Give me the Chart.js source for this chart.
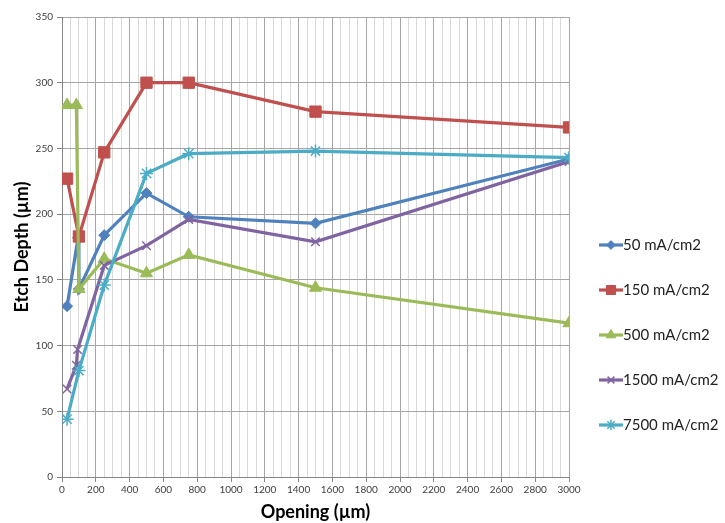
<!DOCTYPE html>
<html>
<head>
<meta charset="utf-8">
<script src="https://cdn.jsdelivr.net/npm/chart.js@4.4.0/dist/chart.umd.min.js"></script>
<style>
  html, body { margin: 0; padding: 0; background: #fff; }
</style>
</head>
<body>
<canvas id="chart" width="725" height="523"></canvas>
<script>
// opening (µm) and etch depth (µm) per current density
const seriesNames = ['50 mA/cm2', '150 mA/cm2', '500 mA/cm2', '1500 mA/cm2', '7500 mA/cm2'];

const open50 = [30, 95, 100, 250, 500, 750, 1500, 3000];
const depth50 = [130, 182, 143, 184, 216, 198, 193, 242];

const open150 = [30, 100, 250, 500, 750, 1500, 3000];
const depth150 = [227, 183, 247, 300, 300, 278, 266];

const open500 = [30, 85, 100, 250, 500, 750, 1500, 3000];
const depth500 = [283, 283, 143, 166, 155, 169, 144, 117];

const open1500 = [30, 85, 92, 250, 500, 750, 1500, 3000];
const depth1500 = [67, 85, 97, 161, 176, 196, 179, 240];

const open7500 = [30, 100, 250, 500, 750, 1500, 3000];
const depth7500 = [44, 81, 146, 231, 246, 248, 243];

const xTicksMax = 3000;
const yTicksMax = 350;

const colors = ['#4f81bd', '#c0504d', '#9bbb59', '#8064a2', '#4bacc6'];
const markers = ['rectRot', 'rect', 'triangle', 'crossRot', 'star'];
const markerSize = [5.5, 8, 7, 6, 6.5];

const FONT = 'Lato, "Liberation Sans", sans-serif';

function pairs(xs, ys) {
  return xs.map((x, i) => ({ x: x, y: ys[i] }));
}

const allData = [
  pairs(open50, depth50),
  pairs(open150, depth150),
  pairs(open500, depth500),
  pairs(open1500, depth1500),
  pairs(open7500, depth7500),
];

const thin = (m) => m === 'crossRot' || m === 'star';

const datasets = allData.map((d, i) => ({
  label: seriesNames[i],
  data: d,
  borderColor: colors[i],
  backgroundColor: colors[i],
  borderWidth: 3.2,
  pointStyle: markers[i],
  pointRadius: markerSize[i],
  pointBorderWidth: thin(markers[i]) ? 1.5 : 1,
  pointBorderColor: colors[i],
  pointBackgroundColor: colors[i],
  tension: 0,
  order: 5 - i, // later series on top, like the original
}));

// legend drawn by hand: line + marker, one entry per row
const sideLegend = {
  id: 'sideLegend',
  afterDraw(chart) {
    const ctx = chart.ctx;
    const rows = [245, 290, 335, 380, 425];
    ctx.save();
    seriesNames.forEach((name, i) => {
      const y = rows[i];
      ctx.strokeStyle = colors[i];
      ctx.lineWidth = 3.2;
      ctx.beginPath();
      ctx.moveTo(599, y);
      ctx.lineTo(623, y);
      ctx.stroke();
      ctx.fillStyle = colors[i];
      ctx.lineWidth = thin(markers[i]) ? 1.5 : 1;
      Chart.helpers.drawPoint(ctx, { pointStyle: markers[i], radius: markerSize[i] * 0.8, rotation: 0, borderWidth: 1 }, 611, y);
      ctx.fillStyle = '#222';
      ctx.font = '15px ' + FONT;
      ctx.textBaseline = 'middle';
      ctx.textAlign = 'left';
      ctx.fillText(name, 623, y);
    });
    ctx.restore();
  }
};

new Chart(document.getElementById('chart'), {
  type: 'line',
  data: { datasets: datasets },
  options: {
    responsive: false,
    animation: false,
    layout: { padding: { left: 0, top: 17, right: 156, bottom: 0 } },
    scales: {
      x: {
        type: 'linear',
        min: 0,
        max: xTicksMax,
        afterFit: (s) => { s.height = 46; },
        ticks: {
          stepSize: 50,
          autoSkip: false,
          maxRotation: 0,
          padding: 2,
          color: '#404040',
          font: { family: FONT, size: 10 },
          callback: (v) => (v % 200 === 0 ? v : ''),
        },
        grid: {
          color: (c) => (c.tick && c.tick.value % 200 === 0 ? '#a6a6a6' : '#d9d9d9'),
          tickLength: 5,
          tickColor: (c) => (c.tick && c.tick.value % 200 === 0 ? '#868686' : 'rgba(0,0,0,0)'),
        },
        border: { color: '#868686' },
        title: {
          display: true,
          text: 'Opening (µm)',
          color: '#000',
          font: { family: FONT, size: 18, weight: 'bold' },
          padding: { top: 0, bottom: 0 },
        },
      },
      y: {
        min: 0,
        max: yTicksMax,
        afterFit: (s) => { s.width = 62; },
        ticks: {
          stepSize: 50,
          padding: 4,
          color: '#404040',
          font: { family: FONT, size: 10 },
        },
        grid: {
          color: '#a6a6a6',
          tickLength: 5,
          tickColor: '#868686',
        },
        border: { color: '#868686' },
        title: {
          display: true,
          text: 'Etch Depth (µm)',
          color: '#000',
          font: { family: FONT, size: 18, weight: 'bold' },
          padding: { top: 11, bottom: 0 },
        },
      },
    },
    plugins: {
      legend: { display: false },
      tooltip: { enabled: false },
    },
  },
  plugins: [sideLegend],
});
</script>
</body>
</html>
